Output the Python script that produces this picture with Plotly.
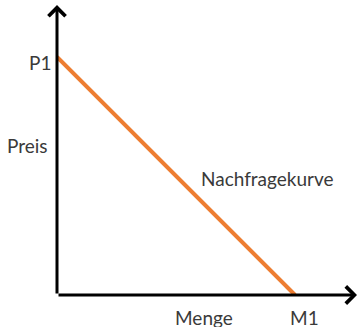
import plotly.graph_objects as go

# Data (schematic demand curve)
menge = [0, 1]          # quantity values: 0 .. M1
preis = [1, 0]          # price values: P1 .. 0
tick_labels = {"P1": 1, "M1": 1}
axis_titles = ["Preis", "Menge"]
curve_label = "Nachfragekurve"

x_max = 300 / 238
y_max = 290 / 238

fig = go.Figure()
fig.add_trace(go.Scatter(x=menge, y=preis, mode="lines",
                         line=dict(color="#ED7D31", width=4),
                         hoverinfo="skip", showlegend=False))

font = dict(family="Lato", size=19, color="#3a3a3a")
ann = []
# axes with arrowheads
ann.append(dict(x=x_max, y=0, ax=0, ay=0, xref="x", yref="y", axref="x", ayref="y",
                text="", showarrow=True, arrowhead=4, arrowsize=1.1, arrowwidth=3,
                arrowcolor="black"))
ann.append(dict(x=0, y=y_max, ax=0, ay=0, xref="x", yref="y", axref="x", ayref="y",
                text="", showarrow=True, arrowhead=4, arrowsize=1.1, arrowwidth=3,
                arrowcolor="black"))
# texts
ann.append(dict(x=0, y=tick_labels["P1"], xref="x", yref="y", text="P1", showarrow=False,
                xanchor="right", yanchor="middle", xshift=-4, yshift=-5, font=font))
ann.append(dict(x=tick_labels["M1"], y=0, xref="x", yref="y", text="M1", showarrow=False,
                xanchor="center", yanchor="middle", xshift=9, yshift=-22, font=font))
ann.append(dict(x=-0.097, y=0.517, xref="paper", yref="paper", text=axis_titles[0],
                showarrow=False, xanchor="center", yanchor="middle", font=font))
ann.append(dict(x=0.49, y=-22 / 290, xref="paper", yref="paper", text=axis_titles[1],
                showarrow=False, xanchor="center", yanchor="middle", font=font))
ann.append(dict(x=0.703, y=0.403, xref="paper", yref="paper", text=curve_label,
                showarrow=False, xanchor="center", yanchor="middle", font=font))

fig.update_layout(
    width=358, height=327,
    margin=dict(l=57, r=1, t=5, b=32),
    paper_bgcolor="white", plot_bgcolor="white",
    xaxis=dict(range=[0, x_max], visible=False, fixedrange=True),
    yaxis=dict(range=[0, y_max], visible=False, fixedrange=True),
    annotations=ann,
)
fig.write_html("out.html", config={"displayModeBar": False},
               post_script="document.body.style.margin='0';document.body.style.overflow='hidden';")
